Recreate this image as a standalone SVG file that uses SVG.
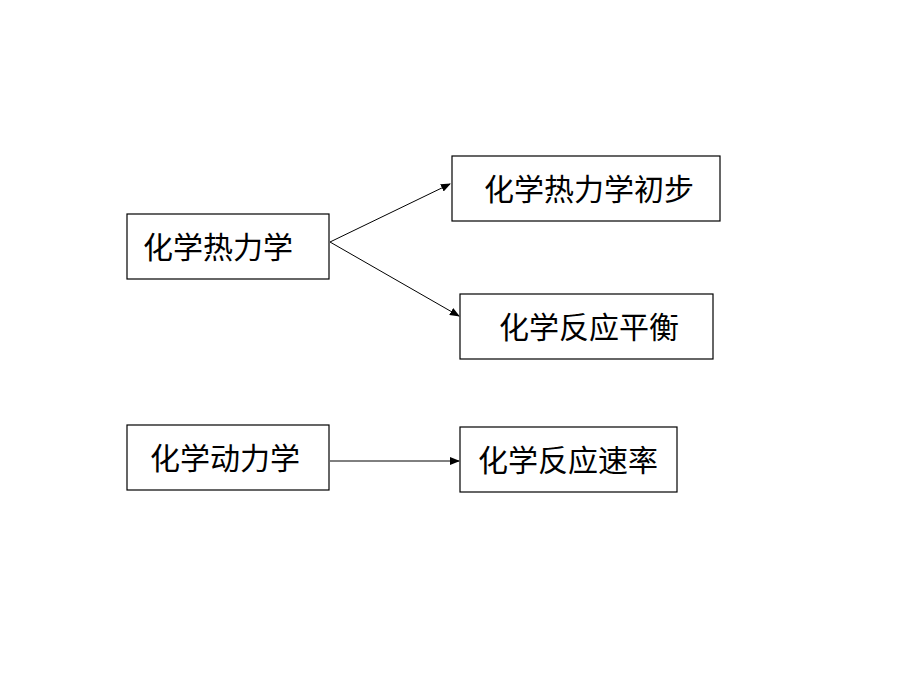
<svg xmlns="http://www.w3.org/2000/svg" width="920" height="690" viewBox="0 0 920 690">
<style>
rect{fill:#fff;stroke:#000;stroke-width:1.2}
text{font-family:"Liberation Sans","Noto Sans CJK SC",sans-serif;font-size:30px;fill:#000}
line{stroke:#000;stroke-width:1}
</style>
<defs><marker id="a" markerWidth="10" markerHeight="8" refX="9" refY="4" orient="auto" markerUnits="userSpaceOnUse"><path d="M0,0 L10,4 L0,8 Z" fill="#000"/></marker></defs>
<rect x="0" y="0" width="920" height="690" style="stroke:none"/>
<g id="n1"><rect x="127" y="214" width="202" height="65"/><text x="143" y="258">化学热力学</text></g>
<g id="n2"><rect x="452" y="156" width="268" height="65"/><text x="484" y="200">化学热力学初步</text></g>
<g id="n3"><rect x="460" y="294" width="253" height="65"/><text x="499" y="338">化学反应平衡</text></g>
<g id="n4"><rect x="127" y="425" width="202" height="65"/><text x="150" y="469">化学动力学</text></g>
<g id="n5"><rect x="460" y="427" width="217" height="65"/><text x="478" y="471">化学反应速率</text></g>
<g id="edges">
<line x1="330" y1="242" x2="450" y2="184" marker-end="url(#a)"/>
<line x1="330" y1="242" x2="459" y2="316" marker-end="url(#a)"/>
<line x1="330" y1="461" x2="459" y2="461" marker-end="url(#a)"/>
</g>
</svg>
